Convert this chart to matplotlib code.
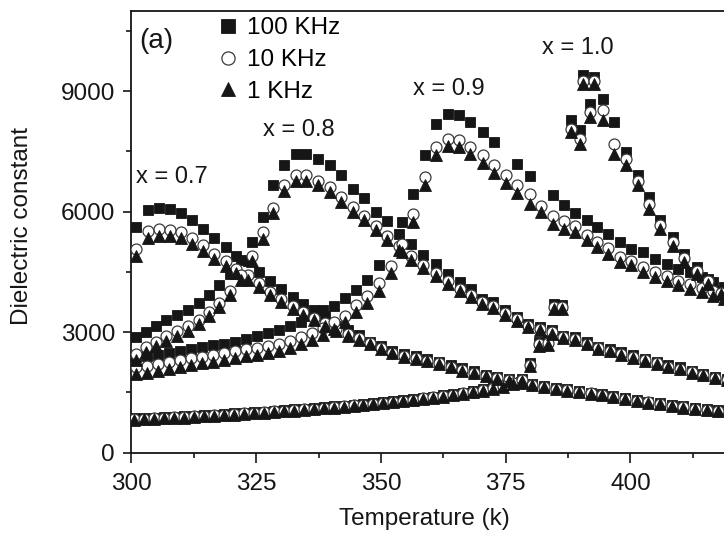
import matplotlib
matplotlib.use("Agg")
import matplotlib.pyplot as plt
from matplotlib.ticker import MultipleLocator

plt.rcParams['font.family'] = ['Liberation Sans', 'DejaVu Sans']

nan = float('nan')

# ---- temperature (K) and dielectric constant, per composition and frequency ----
T_07 = [301.0, 303.3, 305.5, 307.7, 309.9, 312.2, 314.4, 316.6, 318.9, 321.0,
        323.3, 325.5, 327.7, 330.0, 332.3, 334.4, 336.6, 338.8, 341.0, 343.3,
        345.5, 347.8, 350.0, 352.3, 354.6, 357.0, 359.3, 361.6, 364.0, 366.3,
        368.6, 371.0, 373.3, 375.6, 378.0, 380.3, 382.6, 385.0, 387.3, 389.6,
        392.0, 394.3, 396.6, 399.0, 401.3, 403.6, 406.0, 408.3, 410.6, 413.0,
        415.3, 417.6, 420.0, 422.3]
E07_100k = [5610, 6040, 6080, 6070, 5970, 5790, 5570, 5350, 5110, 4900,
            4760, 4490, 4280, 4070, 3870, 3690, 3540, 3410, 3160, 3040,
            2930, 2760, 2640, 2530, 2450, 2400, 2330, 2260, 2180, 2100,
            2020, 1940, 1890, 1830, 1760, 1700, 1650, 1610, 1570, 1530,
            1490, 1450, 1410, 1350, 1310, 1270, 1230, 1190, 1150, 1110,
            1080, 1060, 1040, 1010]
E07_10k = [5070, 5520, 5570, 5550, 5490, 5350, 5160, 4950, 4770, 4580,
           4410, 4210, 4000, 3830, 3650, 3500, 3360, 3230, 3080, 2960,
           2850, 2720, 2600, 2490, 2410, 2360, 2290, 2220, 2140, 2060,
           1990, 1910, 1860, 1800, 1730, 1680, 1630, 1590, 1550, 1510,
           1470, 1430, 1390, 1330, 1290, 1250, 1210, 1170, 1130, 1090,
           1060, 1040, 1020, 990]
E07_1k = [4900, 5340, 5400, 5390, 5330, 5200, 5020, 4830, 4650, 4470,
          4300, 4110, 3920, 3750, 3580, 3430, 3290, 3160, 3030, 2910,
          2800, 2690, 2580, 2470, 2390, 2340, 2270, 2200, 2120, 2040,
          1970, 1900, 1840, 1780, 1720, 1670, 1620, 1580, 1540, 1500,
          1460, 1420, 1380, 1320, 1280, 1240, 1200, 1160, 1120, 1080,
          1050, 1030, 1010, 980]

T_08 = [301.0, 303.0, 305.0, 307.0, 309.2, 311.4, 313.6, 315.6, 317.6, 319.8,
        322.0, 324.2, 326.3, 328.4, 330.6, 333.0, 335.0, 337.3, 339.7, 342.0,
        344.3, 346.7, 349.0, 351.3, 353.6, 356.0, 358.5, 361.0, 363.4, 365.8,
        368.0, 370.2, 372.4, 374.8, 377.2, 379.5, 381.8, 384.2, 386.5, 388.9,
        391.2, 393.5, 395.9, 398.2, 400.6, 402.9, 405.3, 407.6, 410.0, 412.3,
        414.6, 417.0, 419.4, 421.8]
E08_100k = [2870, 3000, 3160, 3300, 3430, 3560, 3720, 3920, 4160, 4450,
            4800, 5240, 5870, 6650, 7150, 7440, 7440, 7310, 7150, 6900,
            6570, 6340, 6000, 5760, 5450, 5200, 4920, 4690, 4450, 4240,
            4070, 3830, 3740, 3540, 3380, 3200, 3120, 3040, 2910, 2870,
            2750, 2620, 2580, 2500, 2420, 2330, 2250, 2170, 2120, 2040,
            1960, 1880, 1830, 1780]
E08_10k = [2450, 2620, 2760, 2890, 3020, 3140, 3300, 3500, 3730, 4030,
           4420, 4900, 5480, 6100, 6650, 6900, 6900, 6770, 6610, 6360,
           6110, 5900, 5650, 5400, 5130, 4900, 4680, 4480, 4270, 4080,
           3930, 3740, 3650, 3470, 3320, 3160, 3070, 2990, 2870, 2820,
           2710, 2590, 2540, 2460, 2380, 2300, 2220, 2140, 2090, 2010,
           1940, 1860, 1810, 1760]
E08_1k = [2300, 2500, 2650, 2780, 2910, 3030, 3190, 3390, 3620, 3920,
          4300, 4780, 5320, 5960, 6520, 6760, 6770, 6650, 6490, 6240,
          6000, 5790, 5540, 5290, 5030, 4800, 4600, 4400, 4200, 4020,
          3870, 3690, 3600, 3430, 3280, 3130, 3040, 2960, 2840, 2790,
          2690, 2570, 2520, 2440, 2360, 2280, 2200, 2120, 2070, 1990,
          1920, 1850, 1800, 1750]

T_09 = [301.0, 303.2, 305.4, 307.6, 309.8, 312.0, 314.2, 316.4, 318.6, 320.8,
        323.0, 325.2, 327.4, 329.6, 331.8, 334.0, 336.2, 338.4, 340.6, 342.8,
        345.0, 347.2, 349.6, 352.0, 354.2, 356.4, 358.8, 361.1, 363.5, 365.7,
        367.8, 370.4, 372.7, 375.0, 377.2, 379.8, 382.1, 384.4, 386.6, 388.9,
        391.2, 393.3, 395.5, 397.9, 400.2, 402.6, 404.9, 407.3, 409.6, 411.9,
        414.4, 416.6, 418.8, 421.2]
E09_100k = [2370, 2400, 2440, 2480, 2520, 2570, 2620, 2670, 2710, 2760,
            2830, 2890, 2970, 3050, 3140, 3260, 3420, 3540, 3660, 3850,
            4050, 4290, 4680, nan, 5730, 6440, 7400, 8190, 8430, 8400,
            8230, 7980, 7720, nan, 7190, 6880, nan, 6420, 6170, 5960,
            5780, 5610, 5445, 5240, 5070, 4990, 4820, 4700, 4570, 4490,
            4370, 4240, 4120, 4000]
E09_10k = [2120, 2160, 2210, 2260, 2300, 2350, 2390, 2440, 2480, 2530,
           2570, 2610, 2660, 2710, 2780, 2870, 2980, 3100, 3250, 3410,
           3680, 3890, 4210, 4650, 5200, 5940, 6860, 7600, 7810, 7770,
           7600, 7400, 7150, 6900, 6650, 6440, 6150, 5900, 5760, 5650,
           5420, 5250, 5080, 4880, 4780, 4620, 4490, 4400, 4280, 4200,
           4100, 4010, 3920, 3830]
E09_1k = [1950, 1990, 2040, 2080, 2130, 2170, 2220, 2260, 2310, 2350,
          2400, 2440, 2490, 2540, 2610, 2700, 2810, 2930, 3080, 3240,
          3500, 3720, 4020, 4480, 5000, 5750, 6650, 7420, 7640, 7600,
          7430, 7200, 6950, 6700, 6450, 6190, 5980, 5690, 5560, 5490,
          5280, 5110, 4950, 4740, 4660, 4490, 4370, 4280, 4160, 4080,
          3990, 3900, 3820, 3740]

T_10 = [300.5, 302.5, 304.5, 306.5, 308.5, 310.5, 312.5, 314.5, 316.5, 318.5,
        320.5, 322.5, 324.5, 326.5, 328.5, 330.5, 332.5, 334.5, 336.5, 338.5,
        340.5, 342.5, 344.5, 346.5, 348.5, 350.5, 352.5, 354.5, 356.5, 358.5,
        360.5, 362.5, 364.5, 366.5, 368.5, 370.5, 372.5, 374.5, 376.4, 378.2,
        379.8, 381.7, 383.5, 384.6, 386.2, 388.0, 389.8, 390.4, 391.9, 392.6,
        394.6, 396.8, 399.2, 401.6, 403.8, 406.0, 408.6, 410.8, 413.3, 415.6,
        418.2, 420.6, 423.0]
E10_100k = [850, 860, 870, 880, 890, 900, 915, 930, 945, 960,
            975, 990, 1005, 1020, 1040, 1060, 1075, 1090, 1110, 1130,
            1150, 1170, 1190, 1210, 1230, 1255, 1280, 1305, 1330, 1360,
            1390, 1420, 1455, 1490, 1530, 1570, 1620, 1670, 1740, 1820,
            2230, 2760, 2790, 3700, 3680, 8270, 8020, 9390, 8680, 9350,
            8810, 8230, 7480, 6900, 6360, 5780, 5360, 4950, 4610, 4330,
            4030, 3800, 3600]
E10_10k = [835, 845, 855, 865, 875, 885, 900, 915, 930, 945,
           960, 975, 990, 1005, 1025, 1045, 1060, 1075, 1095, 1115,
           1135, 1155, 1175, 1195, 1215, 1240, 1265, 1290, 1315, 1345,
           1375, 1405, 1440, 1475, 1515, 1555, 1600, 1650, 1720, 1800,
           2180, 2690, 2720, 3630, 3620, 8050, 7800, 9260, 8480, 9250,
           8520, 7690, 7300, 6760, 6200, 5660, 5250, 4840, 4520, 4260,
           3980, 3750, 3560]
E10_1k = [820, 830, 840, 850, 860, 870, 885, 900, 915, 930,
          945, 960, 975, 990, 1010, 1030, 1045, 1060, 1080, 1100,
          1120, 1140, 1160, 1180, 1200, 1225, 1250, 1275, 1300, 1330,
          1360, 1390, 1425, 1460, 1500, 1540, 1585, 1635, 1700, 1780,
          2150, 2640, 2680, 3580, 3570, 7980, 7690, 9180, 8350, 9180,
          8270, 7440, 7150, 6650, 6070, 5570, 5150, 4740, 4450, 4200,
          3950, 3720, 3530]

compositions = ['x = 0.7', 'x = 0.8', 'x = 0.9', 'x = 1.0']
frequencies = ['100 KHz', '10 KHz', '1 KHz']
temps = [T_07, T_08, T_09, T_10]
values = {
    '100 KHz': [E07_100k, E08_100k, E09_100k, E10_100k],
    '10 KHz': [E07_10k, E08_10k, E09_10k, E10_10k],
    '1 KHz': [E07_1k, E08_1k, E09_1k, E10_1k],
}
# label anchor (T, eps) for each composition
label_pos = [(300.9, 6850), (326.4, 8040), (356.5, 9050), (382.2, 10070)]

INK = '#161616'
marker_style = {
    '100 KHz': dict(marker='s', ms=7.9, mfc=INK, mec=INK, mew=0.6, zorder=3),
    '10 KHz': dict(marker='o', ms=7.9, mfc='white', mec='#3a3a3a', mew=0.9, zorder=4),
    '1 KHz': dict(marker='^', ms=8.2, mfc=INK, mec=INK, mew=0.6, zorder=5),
}

fig = plt.figure(figsize=(7.24, 5.34), dpi=100)
# the temperature axis runs on past the right edge of the figure
ax = fig.add_axes([0.1816, 0.1526, 0.8184, 0.8273])

handles = {}
for f in frequencies:
    for T, E in zip(temps, values[f]):
        ln, = ax.plot(T, E, ls='none', **marker_style[f])
    handles[f] = ln

for name, (tx, ty) in zip(compositions, label_pos):
    ax.text(tx, ty, name, ha='left', va='center', fontsize=17, color=INK)
ax.text(301.6, 10250, '(a)', ha='left', va='center', fontsize=20, color=INK)

ax.legend([handles[f] for f in frequencies], frequencies,
          loc='upper left', bbox_to_anchor=(0.143, 0.985), frameon=False,
          borderpad=0, borderaxespad=0, handlelength=1.0, handletextpad=0.26,
          labelspacing=0.4, markerscale=1.2, fontsize=17.5, numpoints=1)

ax.set_xlim(300, 418.75)
ax.set_ylim(0, 11000)
ax.xaxis.set_major_locator(MultipleLocator(25))
ax.xaxis.set_minor_locator(MultipleLocator(12.5))
ax.yaxis.set_major_locator(MultipleLocator(3000))
ax.yaxis.set_minor_locator(MultipleLocator(1500))

ax.spines['right'].set_visible(False)
for s in ax.spines.values():
    s.set_linewidth(1.3)
    s.set_color(INK)
ax.tick_params(which='both', direction='out', width=1.2, color=INK,
               labelsize=17.5, labelcolor=INK)
ax.tick_params(axis='x', which='major', length=7, pad=7.5)
ax.tick_params(axis='y', which='major', length=6, pad=5.9)
ax.tick_params(which='minor', length=3.8)

ax.set_xlabel('Temperature (k)', fontsize=17.5, color=INK)
ax.set_ylabel('Dielectric constant', fontsize=17.5, color=INK)
ax.xaxis.set_label_coords(0.495, -0.125)
ax.yaxis.set_label_coords(-0.166, 0.512)

fig.savefig('out.png', dpi=100)
